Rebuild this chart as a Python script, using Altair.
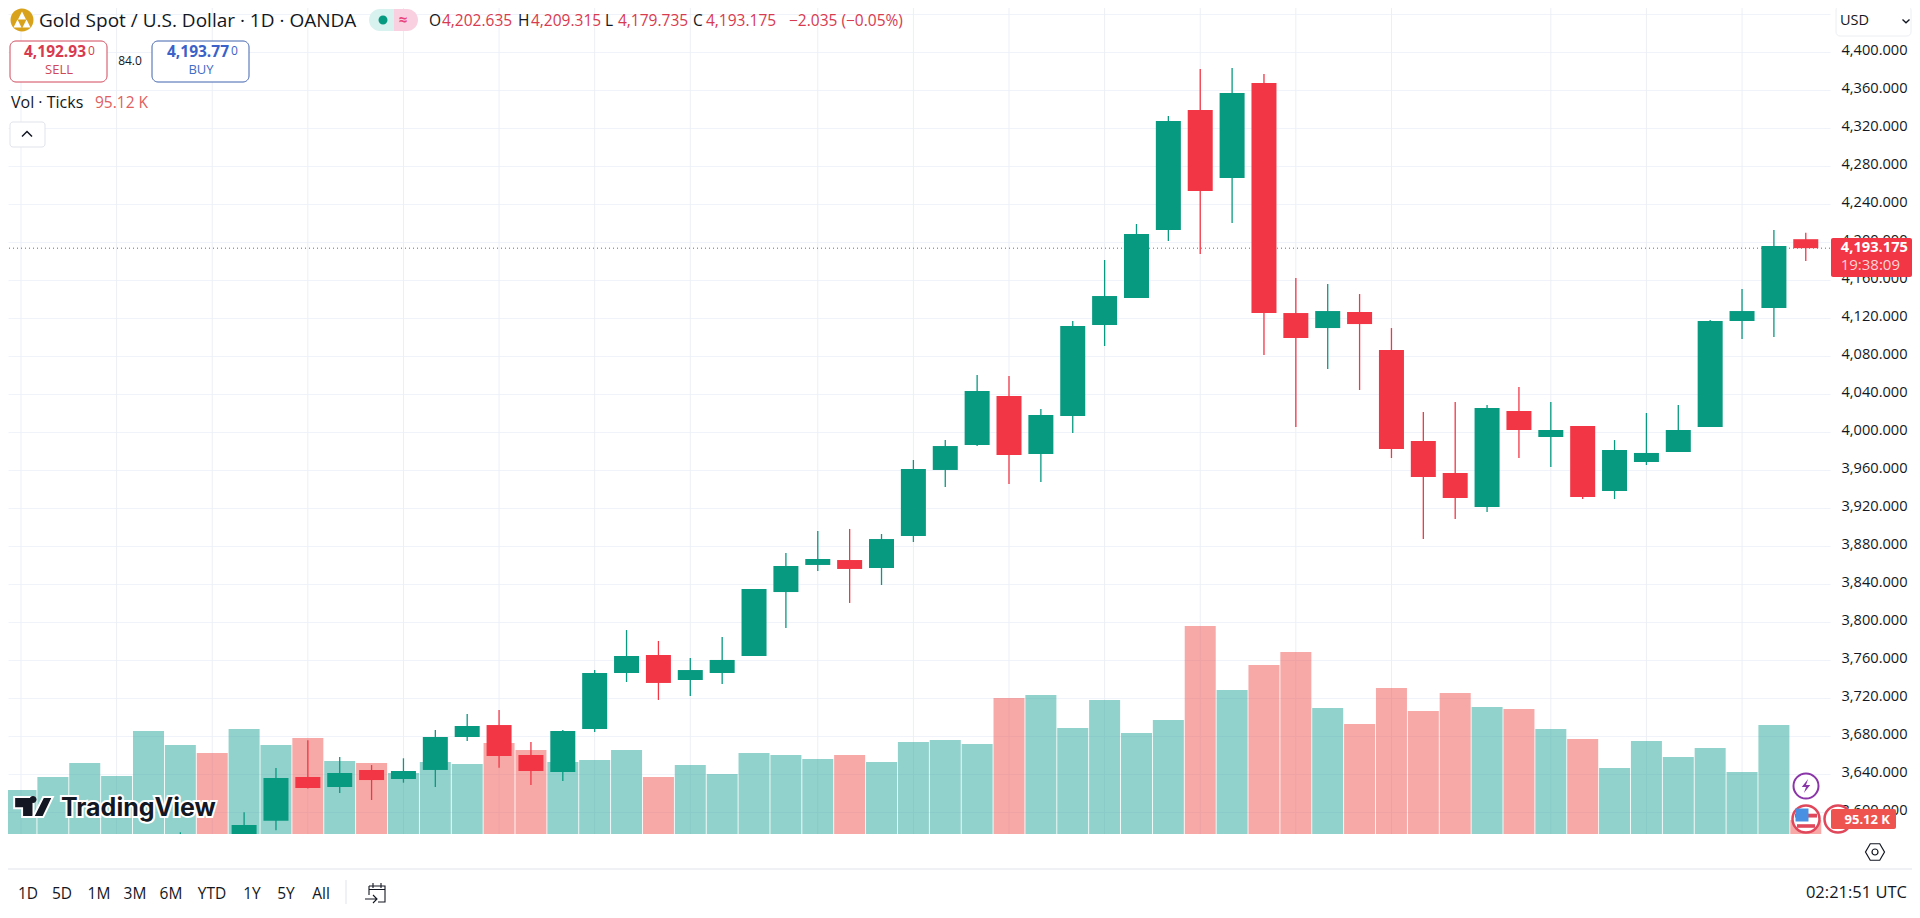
import json
import altair as alt
import pandas as pd

# ---- values ----
trading_days = ["Aug 26", "Aug 27", "Aug 28", "Aug 29", "Sep 1", "Sep 2", "Sep 3", "Sep 4", "Sep 5", "Sep 8", "Sep 9",
                "Sep 10", "Sep 11", "Sep 12", "Sep 15", "Sep 16", "Sep 17", "Sep 18", "Sep 19", "Sep 22", "Sep 23",
                "Sep 24", "Sep 25", "Sep 26", "Sep 29", "Sep 30", "Oct 1", "Oct 2", "Oct 3", "Oct 6", "Oct 7", "Oct 8",
                "Oct 9", "Oct 10", "Oct 13", "Oct 14", "Oct 15", "Oct 16", "Oct 17", "Oct 20", "Oct 21", "Oct 22",
                "Oct 23", "Oct 24", "Oct 27", "Oct 28", "Oct 29", "Oct 30", "Oct 31", "Nov 3", "Nov 4", "Nov 5",
                "Nov 6", "Nov 7", "Nov 10", "Nov 11", "Nov 12", "Nov 13"]
volume_k = [360, 299, 388, 483, 394, 700, 605, 551, 714, 605, 653, 496, 483, 415, 490, 476, 619, 571, 490, 503, 571,
            388, 469, 408, 551, 537, 510, 537, 490, 626, 639, 612, 925, 945, 721, 911, 687, 775, 1414, 979, 1149,
            1238, 857, 748, 993, 836, 959, 864, 850, 714, 646, 449, 632, 524, 585, 422, 741, 95.12]
volume_red_days = ["Sep 4", "Sep 9", "Sep 11", "Sep 17", "Sep 18", "Sep 24", "Oct 2", "Oct 9", "Oct 17", "Oct 21",
                   "Oct 22", "Oct 24", "Oct 27", "Oct 28", "Oct 29", "Oct 31", "Nov 4", "Nov 13"]
candle_days = trading_days[6:]
opens = [3545, 3562, 3555, 3590.5, 3636.5, 3626, 3643.9, 3634.4, 3643.9, 3678.6, 3691.2, 3659.7, 3641.8, 3687, 3746,
         3764.9, 3738.6, 3746, 3763.9, 3831.2, 3859.7, 3864.9, 3856.5, 3890.2, 3959.7, 3986, 4037.6, 3976.5, 4016.5,
         4112.3, 4140.7, 4212.3, 4338.6, 4267, 4367, 4124.9, 4109.1, 4126, 4086, 3990.2, 3956.5, 3920.7, 4021.8,
         3994.4, 4006, 3937.6, 3968.1, 3978.6, 4004.9, 4116.5, 4130.2, 4202.635]
highs = [3578.3, 3572, 3599.4, 3646, 3675.1, 3657.6, 3649.1, 3656.2, 3686, 3702.8, 3707, 3673.3, 3686, 3749.1, 3791.2,
         3779.7, 3761.8, 3783.9, 3834.4, 3872.3, 3895.5, 3897.6, 3892.3, 3970.2, 3991.2, 4059.7, 4058.6, 4023.9,
         4116.5, 4180.7, 4218.6, 4332.3, 4381.8, 4382.8, 4376.5, 4161.8, 4155.5, 4144.9, 4109.1, 4020.7, 4031.2,
         4028.1, 4047, 4031.2, 4006, 3991.2, 4019.7, 4028.1, 4117.6, 4150.2, 4212.3, 4209.315]
lows = [3530, 3535, 3545, 3580.4, 3624.5, 3619.7, 3612.3, 3630.5, 3626, 3674.4, 3646.3, 3628.1, 3632.3, 3683.9, 3736.5,
        3717.6, 3721.8, 3734.4, 3763.9, 3793.3, 3853.3, 3819.7, 3838.6, 3883.9, 3941.8, 3984.9, 3944.9, 3947, 3998.6,
        4090.2, 4140.7, 4200.7, 4187, 4219.7, 4080.7, 4004.9, 4066, 4043.9, 3972.3, 3887, 3908.1, 3915.5, 3972.3,
        3962.8, 3929.1, 3929.1, 3964.9, 3978.6, 4004.9, 4097.6, 4099.7, 4179.735]
closes = [3560, 3548, 3586, 3635.5, 3624.9, 3640.7, 3633.3, 3642.8, 3678.6, 3690.2, 3658.6, 3642.8, 3684.9, 3746,
          3763.9, 3735.5, 3749.1, 3759.7, 3834.4, 3858.6, 3866, 3855.5, 3887, 3960.7, 3984.9, 4042.8, 3975.5, 4017.6,
          4111.2, 4142.8, 4208.1, 4327, 4253.3, 4356.5, 4124.9, 4098.6, 4127, 4113.3, 3981.8, 3952.3, 3930.2, 4024.9,
          4001.8, 4001.8, 3931.2, 3980.7, 3977.6, 4001.8, 4116.5, 4127, 4195.5, 4193.175]
tick_days = ["Aug 27", "Sep 1", "Sep 4", "Sep 9", "Sep 12", "Sep 17", "Sep 22", "Sep 25", "Oct 1", "Oct 6", "Oct 9",
             "Oct 14", "Oct 17", "Oct 22", "Oct 27", "Nov 3", "Nov 6", "Nov 11"]
tick_labels = ["27", "Sep", "4", "9", "12", "17", "22", "25", "Oct", "6", "9", "14", "17", "22", "27", "Nov", "6", "11"]
month_labels = ["Sep", "Oct", "Nov"]
price_ticks = [3600, 3640, 3680, 3720, 3760, 3800, 3840, 3880, 3920, 3960, 4000, 4040, 4080, 4120, 4160, 4200, 4240,
               4280, 4320, 4360, 4400, 4440]
hidden_price_label = 4440
last_price = 4193.175
price_domain = [3576.5, 4446]
volume_domain = [0, 5617]

FONT = "Open Sans"
GREEN, RED = "#089981", "#f23645"
INK = "#131722"

# ---- tables ----
pos = {d: i - 1 for i, d in enumerate(trading_days)}
vol_df = pd.DataFrame({"idx": [pos[d] for d in trading_days], "day": trading_days, "vol": volume_k,
                       "dir": ["down" if d in volume_red_days else "up" for d in trading_days]})
c_df = pd.DataFrame({"idx": [pos[d] for d in candle_days], "o": opens, "h": highs, "l": lows, "c": closes})
c_df["dir"] = ["up" if c >= o else "down" for o, c in zip(opens, closes)]
tick_idx = [pos[d] for d in tick_days]
bold_idx = [i for i, l in zip(tick_idx, tick_labels) if l in month_labels]

x_scale = alt.Scale(domain=[-0.408, 56.76], nice=False, zero=False, padding=0)
y_scale = alt.Scale(domain=price_domain, nice=False, zero=False)
v_scale = alt.Scale(domain=volume_domain, nice=False)
dir_candle = alt.Scale(domain=["up", "down"], range=[GREEN, RED])
dir_vol = alt.Scale(domain=["up", "down"], range=["#26a69a", "#ef5350"])

x_axis = alt.Axis(values=tick_idx, title=None, domain=False, ticks=False, labelPadding=10, labelFontSize=14,
                  labelColor=INK, labelFont=FONT, labelBound=False, labelFlush=False, labelOverlap=False,
                  grid=False,
                  labelExpr="%s[indexof(%s, datum.value)]" % (json.dumps(tick_labels), json.dumps(tick_idx)),
                  labelFontWeight={"condition": {"test": "indexof(%s, datum.value) >= 0" % json.dumps(bold_idx),
                                                 "value": 700}, "value": 400})
y_axis = alt.Axis(values=price_ticks, orient="right", title=None, domain=False, ticks=False,
                  labelExpr="datum.value == %d ? '' : format(datum.value, ',.3f')" % hidden_price_label,
                  labelPadding=11, labelFontSize=14.6, labelColor=INK, labelFont=FONT, labelOffset=-1.5,
                  labelOverlap=False, labelBound=False, labelFlush=False, grid=True, gridColor="#f0f3fa")
X = alt.X("idx:Q", scale=x_scale, axis=None)

v_grid = alt.Chart(pd.DataFrame({"idx": tick_idx})).mark_rule(color="#eceff5", strokeWidth=1).encode(x=X)
vol = alt.Chart(vol_df).mark_bar(size=31, orient="vertical", clip=True, opacity=0.5).encode(
    x=alt.X("idx:Q", scale=x_scale, axis=x_axis),
    y=alt.Y("vol:Q", scale=v_scale, axis=None),
    color=alt.Color("dir:N", scale=dir_vol, legend=None))
dotted = alt.Chart(pd.DataFrame({"p": [last_price]})).mark_rule(strokeDash=[1, 3], color="#c8404f", strokeWidth=1).encode(
    y=alt.Y("p:Q", scale=y_scale, axis=y_axis))
wick = alt.Chart(c_df).mark_rule(strokeWidth=1.3, clip=True).encode(
    x=X, y=alt.Y("l:Q", scale=y_scale, axis=None), y2="h:Q",
    color=alt.Color("dir:N", scale=dir_candle, legend=None))
body = alt.Chart(c_df).mark_bar(size=25, orient="vertical", clip=True).encode(
    x=X, y=alt.Y("o:Q", scale=y_scale, axis=None), y2="c:Q",
    color=alt.Color("dir:N", scale=dir_candle, legend=None))

# ---- page furniture ----
ONE = alt.Data(values=[{"a": 1}])


def T(x, y, s, color=INK, size=13, weight="normal", align="left", font=FONT, **kw):
    return alt.Chart(ONE).mark_text(color=color, fontSize=size, fontWeight=weight, align=align, baseline="middle",
                                    font=font, **kw).encode(x=alt.value(x - 8), y=alt.value(y - 8), text=alt.value(s))


def R(x1, y1, x2, y2, fill="white", **kw):
    return alt.Chart(ONE).mark_rect(fill=fill, **kw).encode(x=alt.value(x1 - 8), x2=alt.value(x2 - 8),
                                                            y=alt.value(y1 - 8), y2=alt.value(y2 - 8))


def S(x, y, span, path, fill=None, stroke=None, width=1.5):
    kw = {"filled": fill is not None, "opacity": 1}
    if fill is not None:
        kw["fill"] = fill
    if stroke is not None:
        kw["stroke"] = stroke
        kw["strokeWidth"] = width
    return alt.Chart(ONE).mark_point(shape=path, size=span * span, **kw).encode(x=alt.value(x - 8), y=alt.value(y - 8))


CIRCLE = "M-1,0A1,1 0 1,1 1,0A1,1 0 1,1 -1,0Z"
BAR_RED = "#d83a4f"
parts = [
    # symbol + title
    S(22, 20, 23, CIRCLE, fill="#d9a21b"),
    S(22, 15.5, 8, "M-1,1L0,-1L1,1Z", fill="white"),
    S(17.5, 23.5, 8, "M-1,1L0,-1L1,1Z", fill="white"),
    S(26.5, 23.5, 8, "M-1,1L0,-1L1,1Z", fill="white"),
    T(39, 21, "Gold Spot / U.S. Dollar · 1D · OANDA", size=19),
    R(369, 9, 394, 31, fill="#d8f2ef", cornerRadiusTopLeft=11, cornerRadiusBottomLeft=11),
    R(394, 9, 418, 31, fill="#f9d0e0", cornerRadiusTopRight=11, cornerRadiusBottomRight=11),
    S(383, 20, 9, CIRCLE, fill="#089981"),
    T(403, 20, "≈", color="#e8467c", size=15, weight="bold", align="center"),
    T(429, 21, "O", size=15.5), T(442, 21, "4,202.635", color=BAR_RED, size=15.5),
    T(518, 21, "H", size=15.5), T(531, 21, "4,209.315", color=BAR_RED, size=15.5),
    T(605, 21, "L", size=15.5), T(618, 21, "4,179.735", color=BAR_RED, size=15.5),
    T(693, 21, "C", size=15.5), T(706, 21, "4,193.175", color=BAR_RED, size=15.5),
    T(789, 21, "−2.035 (−0.05%)", color=BAR_RED, size=15.5),
    # sell / buy
    R(10, 41, 107, 82, stroke="#d0475a", strokeWidth=1, cornerRadius=6),
    T(24, 52, "4,192.93", color="#d83a4f", size=15.5, weight="bold"),
    T(88, 51, "0", color="#d83a4f", size=12),
    T(59, 70, "SELL", color="#d0475a", size=13, align="center"),
    T(130, 61, "84.0", size=12, align="center"),
    R(152, 41, 249, 82, stroke="#3f62ae", strokeWidth=1, cornerRadius=6),
    T(167, 52, "4,193.77", color="#3a62c8", size=15.5, weight="bold"),
    T(231, 51, "0", color="#3a62c8", size=12),
    T(201, 70, "BUY", color="#3f6cc4", size=13, align="center"),
    T(11, 103, "Vol · Ticks", size=16),
    T(95, 103, "95.12 K", color="#e06060", size=15.5),
    R(10, 122, 45, 147, stroke="#e0e3eb", strokeWidth=1, cornerRadius=3),
    S(27, 134, 10, "M-1,0.5L0,-0.5L1,0.5", stroke=INK, width=1.5),
    # watermark
    S(33.5, 807, 38.7, "M-1,-0.52L0,-0.52L0,0.52L-0.59,0.52L-0.59,0.07L-1,0.07Z", fill="#131722",
      stroke="white", width=2),
    S(33.5, 807, 38.7, "M0.5,-0.52L1,-0.52L0.5,0.52L-0.02,0.52Z", fill="#131722", stroke="white", width=2),
    S(33, 799.5, 7, CIRCLE, fill="#131722"),
    T(61, 808, "TradingView", color="white", size=25, weight="bold", font="Inter", stroke="white", strokeWidth=4),
    T(61, 808, "TradingView", color="#131722", size=25, weight="bold", font="Inter"),
    # USD box and last-price labels
    R(1836, 6, 1911, 36, stroke="#eceef2", strokeWidth=1, cornerRadius=4),
    T(1840, 21, "USD", size=14.5),
    S(1906, 21, 7, "M-1,-0.4L0,0.5L1,-0.4", stroke=INK, width=1.4),
    R(1831, 238, 1912, 277, fill=RED, cornerRadius=2),
    T(1908, 248, "4,193.175", color="white", size=14.7, weight="bold", align="right"),
    T(1900, 265, "19:38:09", color="#fbd3d7", size=15, align="right"),
    # event badges
    S(1806, 786, 25, CIRCLE, fill="white", stroke="#8a35a8", width=2),
    S(1806, 786, 14, "M0.3,-1L-0.6,0.15L0,0.15L-0.3,1L0.6,-0.15L0,-0.15Z", fill="#8a35a8"),
    S(1838, 819, 27, CIRCLE, fill="white", stroke="#e0475a", width=2.5),
    S(1806, 819, 27, CIRCLE, fill="white", stroke="#e0475a", width=2.5),
    S(1806, 817, 22, "M-1,-0.3L1,-0.3L1,0.05L-1,0.05Z", fill="#e0475a"),
    S(1806, 826, 18, "M-1,-0.2L1,-0.2L1,0.2L-1,0.2Z", fill="#e0475a"),
    S(1802, 815, 13, "M-1,-1L1,-1L1,1L-1,1Z", fill="#4a90e2"),
    R(1831, 809, 1896, 829, fill="#ef5350", cornerRadius=2),
    T(1890, 820, "95.12 K", color="white", size=13, weight="bold", align="right"),
    # bottom bar
    alt.Chart(ONE).mark_rule(color="#e0e3eb", strokeWidth=1).encode(x=alt.value(-8), x2=alt.value(1904),
                                                                     y=alt.value(861)),
]
for cx, label in [(28, "1D"), (62, "5D"), (99, "1M"), (135, "3M"), (171, "6M"), (212, "YTD"), (252, "1Y"),
                  (286, "5Y"), (321, "All")]:
    parts.append(T(cx, 894, label, size=15.5, align="center"))
parts += [
    R(345.5, 880, 346.5, 904, fill="#e0e3eb"),
    S(376, 893, 20, "M-0.7,-0.7L0.9,-0.7L0.9,0.9L0.2,0.9M-0.7,0.2L-0.7,-0.7M-0.7,-0.35L0.9,-0.35M-0.3,-1L-0.3,-0.5M0.5,-1L0.5,-0.5M-1.1,0.6L0.1,0.6M-0.3,0.2L0.1,0.6L-0.3,1",
      stroke=INK, width=1.1),
    T(1907, 893, "02:21:51 UTC", size=16.5, align="right"),
    S(1875, 852, 19, "M-0.5,-0.87L0.5,-0.87L1,0L0.5,0.87L-0.5,0.87L-1,0Z", stroke=INK, width=1.2),
    S(1875, 852, 6, CIRCLE, stroke=INK, width=1.2),
]

chart = alt.layer(v_grid, vol, dotted, wick, body, *parts).resolve_scale(y="independent", color="independent").properties(
    width=1822, height=826, autosize=alt.AutoSizeParams(type="none"),
    padding={"left": 0, "top": 0, "right": 82, "bottom": 70}, background="white"
).configure_view(stroke=None)

chart.save("out.html", embed_options={"renderer": "svg", "actions": False})
